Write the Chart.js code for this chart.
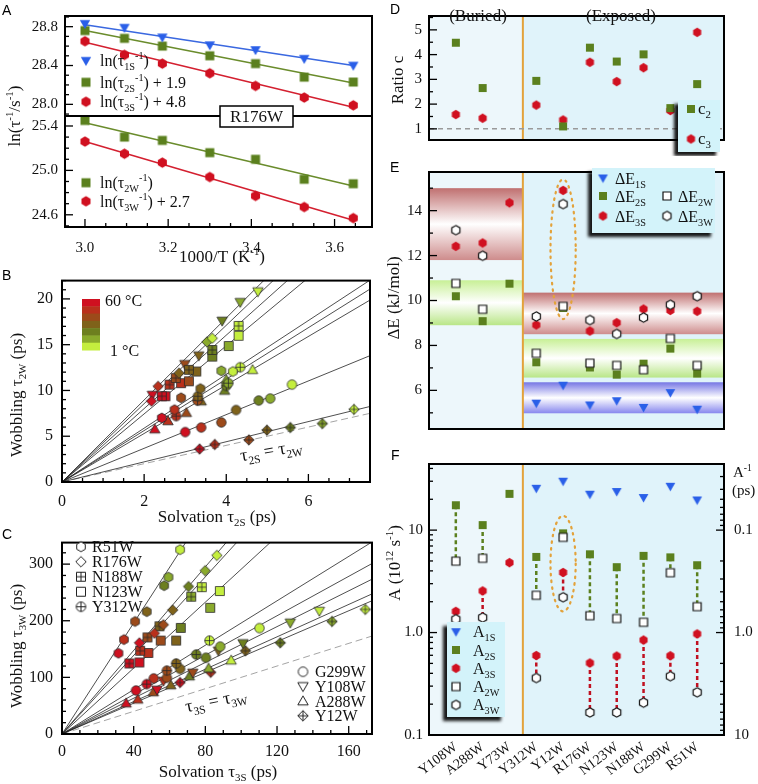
<!DOCTYPE html>
<html>
<head>
<meta charset="utf-8">
<title>Solvation and wobbling dynamics</title>
<script src="https://cdn.jsdelivr.net/npm/chart.js@4.4.1/dist/chart.umd.min.js"></script>
<style>
  body { margin: 0; background: #fff; }
  #wrap { position: relative; width: 758px; height: 784px; overflow: hidden; }
  canvas { position: absolute; }
  .tag { position: absolute; font: 14px "Liberation Sans", Arial, sans-serif; line-height: 14px; color: #000; }
</style>
</head>
<body>
<div id="wrap">
  <canvas id="a2" width="380" height="266" style="left:0;top:0"></canvas>
  <canvas id="a1" width="380" height="266" style="left:0;top:0"></canvas>
  <canvas id="b" width="380" height="266" style="left:0;top:262px"></canvas>
  <canvas id="c" width="380" height="260" style="left:0;top:524px"></canvas>
  <canvas id="d" width="378" height="156" style="left:380px;top:0"></canvas>
  <canvas id="e" width="378" height="289" style="left:380px;top:156px"></canvas>
  <canvas id="f" width="378" height="339" style="left:380px;top:445px"></canvas>
  <span class="tag" style="left:2px;top:3px">A</span>
  <span class="tag" style="left:2px;top:268px">B</span>
  <span class="tag" style="left:2px;top:527px">C</span>
  <span class="tag" style="left:390px;top:2px">D</span>
  <span class="tag" style="left:390px;top:160px">E</span>
  <span class="tag" style="left:391px;top:448px">F</span>
</div>
<script>
//---- data ----
// Panel A (R176W): Arrhenius plots
const invT = [3.0, 3.095, 3.186, 3.30, 3.41, 3.527, 3.645];
const ln1S = [28.83, 28.79, 28.69, 28.61, 28.56, 28.47, 28.40];
const ln2S = [28.76, 28.68, 28.60, 28.50, 28.42, 28.28, 28.23];
const ln3S = [28.65, 28.51, 28.42, 28.32, 28.19, 28.07, 27.99];
const ln2W = [25.45, 25.30, 25.27, 25.16, 25.10, 24.92, 24.88];
const ln3W = [25.26, 25.15, 25.07, 24.94, 24.77, 24.67, 24.57];
const fitX = [3.0, 3.645];
const fit1S = [28.82, 28.40];
const fit2S = [28.76, 28.22];
const fit3S = [28.64, 27.97];
const fit2W = [25.43, 24.86];
const fit3W = [25.26, 24.55];

// temperatures (deg C), index used by the points below
const temps = [60, 50, 40, 30, 20, 10, 1];
const mutants = ['R51W', 'R176W', 'N188W', 'N123W', 'Y312W', 'G299W', 'Y108W', 'A288W', 'Y12W'];

// Panel B: [tau2S, tau2W, temperature index]
const b_R51W = [[2.43, 7.0, 0], [2.74, 7.9, 1], [2.9, 9.2, 2], [3.37, 10.2, 3], [3.88, 12.15, 5], [4.16, 12.07, 6]];
const b_R176W = [[2.18, 8.83, 0], [2.34, 10.45, 1], [2.85, 11.89, 3], [3.53, 15.3, 5], [3.66, 15.7, 6]];
const b_N188W = [[2.43, 9.37, 0], [2.62, 10.63, 1], [2.77, 11.35, 2], [3.09, 12.25, 3], [3.66, 14.42, 4], [4.3, 17.05, 6]];
const b_N123W = [[2.52, 9.37, 0], [2.9, 10.8, 1], [3.09, 11.0, 2], [3.27, 12.07, 3], [3.66, 13.7, 4], [4.06, 14.85, 5], [4.3, 15.97, 6]];
const b_Y312W = [[2.78, 7.2, 1], [3.3, 8.9, 2], [3.31, 9.37, 3], [4.0, 10.5, 4], [4.05, 10.8, 5], [4.34, 12.54, 6]];
const b_G299W = [[3.0, 5.45, 0], [3.39, 5.95, 1], [3.88, 6.5, 2], [4.24, 7.86, 3], [4.79, 8.9, 4], [5.07, 9.12, 5], [5.6, 10.64, 6]];
const b_Y108W = [[2.2, 9.5, 0], [2.99, 12.86, 2], [3.33, 13.8, 3], [3.9, 17.6, 4], [4.34, 19.64, 5], [4.77, 20.8, 6]];
const b_A288W = [[2.26, 5.77, 0], [2.58, 6.67, 1], [3.03, 7.57, 2], [3.39, 8.83, 3], [3.96, 9.99, 4], [4.0, 11.18, 5], [4.64, 12.26, 6]];
const b_Y12W = [[3.35, 3.6, 0], [3.72, 4.1, 1], [4.55, 4.6, 2], [4.99, 5.66, 3], [5.56, 5.95, 4], [6.34, 6.38, 5], [7.11, 7.93, 6]];

// Panel C: [tau3S, tau3W, temperature index]
const c_R51W = [[31.5, 142.5, 0], [34.6, 166.7, 1], [40.8, 198.7, 2], [47.3, 216, 3], [57, 262, 4], [59.4, 277, 5], [65.9, 325.5, 6]];
const c_R176W = [[43.2, 161, 0], [51.6, 177.9, 1], [56.6, 193, 2], [61.8, 218.9, 3], [70.6, 260.4, 4], [79.9, 288.4, 5], [86.4, 315.4, 6]];
const c_N188W = [[37.6, 124.6, 0], [43.6, 147, 1], [47.7, 170.6, 2], [54.4, 190.2, 3], [72.1, 242.4, 5], [78, 259.3, 6]];
const c_N123W = [[43.2, 126.3, 0], [48.2, 143.1, 1], [55.1, 165, 2], [63.7, 165, 3], [66.3, 187.4, 4], [82.7, 222.8, 5], [88.1, 252.5, 6]];
const c_Y312W = [[47.3, 88.1, 0], [58.5, 112, 2], [63.7, 124.6, 3], [74.9, 140.3, 4], [82.3, 165, 6]];
const c_G299W = [[41.3, 76.9, 0], [51.2, 98.2, 1], [58.5, 99.3, 2], [65.9, 115, 3], [80.3, 134.7, 4], [88.3, 154.3, 5], [110.2, 187, 6]];
const c_Y108W = [[53, 78, 0], [56.6, 93.7, 1], [73, 108, 2], [87.3, 147, 3], [101, 160, 4], [127.4, 196.4, 5], [143.6, 217.2, 6]];
const c_A288W = [[35.8, 54.4, 0], [42.3, 61.2, 1], [51, 74, 2], [60.7, 86.4, 3], [71.1, 102.1, 4], [81.8, 116, 5], [94.4, 130.2, 6]];
const c_Y12W = [[65.9, 90.9, 0], [83, 108.9, 1], [102.4, 147, 3], [121.8, 161.1, 4], [150.7, 198.7, 5], [169.3, 220, 6]];

// Panels D-F, one value per site
const sites = ['Y108W', 'A288W', 'Y73W', 'Y312W', 'Y12W', 'R176W', 'N123W', 'N188W', 'G299W', 'R51W'];
const c2 = [4.48, 2.65, null, 2.94, 1.10, 4.28, 3.72, 4.01, 1.84, 2.81];
const c3 = [1.58, 1.43, null, 1.96, 1.36, 3.69, 2.91, 3.47, 1.74, 4.90];

const dE1S = [null, null, null, 5.43, 6.23, 5.35, 5.54, 5.24, 5.90, 5.16];
const dE2S = [10.19, 9.08, 10.75, 7.25, 9.67, 7.02, 6.70, 7.19, 7.86, 6.75];
const dE3S = [12.41, 12.56, 14.35, 8.91, 14.90, 8.64, 9.01, 9.62, 9.56, 9.52];
const dE2W = [10.76, 9.61, null, 7.65, 9.74, 7.21, 7.11, 6.92, 8.31, 7.11];
const dE3W = [13.13, 11.99, null, 9.29, 14.29, 9.13, 8.51, 9.24, 9.81, 10.19];
// shaded ranges: [x from, x to, dE low, dE high, tone]
const bandsE = [
  [0, 3.5, 11.8, 15.0, 'red'],
  [0, 3.5, 8.9, 10.9, 'green'],
  [3.5, 11, 8.5, 10.35, 'red'],
  [3.5, 11, 6.57, 8.29, 'green'],
  [3.5, 11, 4.98, 6.36, 'blue']
];

const A1S = [null, null, null, 25.6, 30.0, 22.4, 23.8, 20.8, 26.8, 19.7];
const A2S = [17.5, 11.2, 22.6, 5.48, 9.3, 5.81, 4.35, 5.61, 5.42, 4.54];
const A3S = [1.61, 2.55, 4.81, 0.597, 3.86, 0.505, 0.590, 0.845, 0.593, 0.97];
const A2W = [4.98, 5.31, null, 2.31, 8.5, 1.46, 1.37, 1.26, 3.84, 1.79];
const A3W = [1.35, 1.40, null, 0.36, 2.21, 0.166, 0.166, 0.207, 0.375, 0.261];

//---- styles ----
const blue = '#2a5fe8', green = '#5b801e', red = '#d01020', orange = '#e3a23a';
const tempColors = ['#cf1020', '#b9301c', '#9c4a1a', '#7f621a', '#6d7f1f', '#8aaa2c', '#c4ee3e'];
const shapes = ['hex', 'diamond', 'sqplus', 'square', 'circplus', 'circle', 'tridown', 'tri', 'diamplus'];
const bandTones = {
  red: ['rgb(192,112,112)', 'rgb(206,140,140)'],
  green: ['rgb(200,240,150)', 'rgb(185,230,135)'],
  blue: ['rgb(118,118,228)', 'rgb(135,135,238)']
};
const SERIF = '"Liberation Serif", "Times New Roman", serif';

Chart.defaults.font.family = SERIF;
Chart.defaults.font.size = 15;
Chart.defaults.color = '#111';

// marker images
function mk(shape, size, fill, stroke, lw) {
  const n = Math.ceil(size * 1.5 + 4);
  const cv = document.createElement('canvas');
  cv.width = n; cv.height = n;
  const g = cv.getContext('2d');
  const m = n / 2, r = size / 2;
  const poly = pts => {
    g.moveTo(m + pts[0][0], m + pts[0][1]);
    pts.slice(1).forEach(p => g.lineTo(m + p[0], m + p[1]));
    g.closePath();
  };
  g.beginPath();
  if (shape === 'square' || shape === 'sqplus') g.rect(m - r, m - r, size, size);
  else if (shape === 'circle' || shape === 'circplus') g.arc(m, m, r, 0, Math.PI * 2);
  else if (shape === 'hex') {
    const h = [];
    for (let i = 0; i < 6; i++) {
      const a = -Math.PI / 2 + i * Math.PI / 3;
      h.push([r * 1.1 * Math.cos(a), r * 1.1 * Math.sin(a)]);
    }
    poly(h);
  }
  else if (shape === 'tri') poly([[0, -r * 1.15], [r * 1.15, r * 0.85], [-r * 1.15, r * 0.85]]);
  else if (shape === 'tridown') poly([[0, r * 1.15], [r * 1.15, -r * 0.85], [-r * 1.15, -r * 0.85]]);
  else poly([[0, -r * 1.3], [r * 1.3, 0], [0, r * 1.3], [-r * 1.3, 0]]);
  if (fill) { g.fillStyle = fill; g.fill(); }
  if (stroke) { g.lineWidth = lw; g.strokeStyle = stroke; g.stroke(); }
  if (shape.endsWith('plus')) {
    const e = shape === 'diamplus' ? r * 1.3 : r;
    g.beginPath();
    g.moveTo(m - e, m); g.lineTo(m + e, m);
    g.moveTo(m, m - e); g.lineTo(m, m + e);
    g.strokeStyle = stroke; g.lineWidth = lw; g.stroke();
  }
  return cv;
}

// text with sub/superscripts: '_x' = subscript, '^x' = superscript
function rich(ctx, x, y, parts, size, align, rot) {
  ctx.save();
  ctx.translate(x, y);
  if (rot) ctx.rotate(rot);
  const small = size * 0.64;
  const segs = parts.map(p => {
    const kind = p[0] === '_' ? 'sub' : p[0] === '^' ? 'sup' : 'n';
    const text = kind === 'n' ? p : p.slice(1);
    const fs = kind === 'n' ? size : small;
    ctx.font = fs + 'px ' + SERIF;
    return { kind, text, fs, w: ctx.measureText(text).width };
  });
  const total = segs.reduce((s, g) => s + g.w, 0);
  let cx = align === 'center' ? -total / 2 : align === 'right' ? -total : 0;
  ctx.fillStyle = '#111';
  ctx.textAlign = 'left';
  ctx.textBaseline = 'alphabetic';
  segs.forEach(g => {
    ctx.font = g.fs + 'px ' + SERIF;
    const dy = g.kind === 'sub' ? size * 0.25 : g.kind === 'sup' ? -size * 0.42 : 0;
    ctx.fillText(g.text, cx, dy);
    cx += g.w;
  });
  ctx.restore();
}

function stamp(ctx, img, x, y) {
  ctx.drawImage(img, x - img.width / 2, y - img.height / 2);
}

function legendBox(ctx, x, y, w, h) {
  ctx.save();
  ctx.shadowColor = 'rgba(0,0,0,0.9)';
  ctx.shadowBlur = 3;
  ctx.shadowOffsetX = -4;
  ctx.shadowOffsetY = 4;
  ctx.fillStyle = '#d3f3fa';
  ctx.fillRect(x, y, w, h);
  ctx.restore();
}

function axis(min, max, vals, fmt, size, extra = {}) {
  const o = {
    type: 'linear', min, max,
    grid: { display: false, drawTicks: false },
    border: { display: false },
    ticks: Object.assign({ padding: 7, color: '#111', font: { size: 15 }, callback: fmt, autoSkip: false, maxRotation: 0 }, extra.ticks || {}),
    afterBuildTicks: s => { s.ticks = vals.map(v => ({ value: v })); },
    afterFit: s => {
      if (size.w !== undefined) s.width = size.w;
      if (size.h !== undefined) s.height = size.h;
    }
  };
  ['type', 'display', 'position', 'reverse'].forEach(k => { if (extra[k] !== undefined) o[k] = extra[k]; });
  return o;
}

// frame around plot area + inward major/minor ticks
function framePlugin(spec) {
  return {
    id: 'frame',
    afterDatasetsDraw(chart) {
      const { ctx, chartArea: a } = chart;
      ctx.save();
      ctx.strokeStyle = '#000';
      ctx.lineWidth = 1.3;
      spec.forEach(s => {
        const sc = chart.scales[s.id];
        const vals = [];
        if (s.log) {
          for (let d = Math.floor(Math.log10(sc.min)); d <= Math.ceil(Math.log10(sc.max)); d++) {
            for (let k = 1; k < 10; k++) {
              const v = k * Math.pow(10, d);
              if (v >= sc.min * 0.999 && v <= sc.max * 1.001) vals.push([v, k === 1]);
            }
          }
        } else {
          const majors = sc.ticks.map(t => t.value);
          for (let n = Math.ceil(sc.min / s.minor - 1e-6); n <= Math.floor(sc.max / s.minor + 1e-6); n++) {
            const v = n * s.minor;
            vals.push([v, majors.some(mv => Math.abs(mv - v) < s.minor / 10)]);
          }
        }
        vals.forEach(([v, major]) => {
          const p = sc.getPixelForValue(v), len = major ? 8 : 4;
          ctx.beginPath();
          s.sides.forEach(side => {
            if (side === 'left') { ctx.moveTo(a.left, p); ctx.lineTo(a.left + len, p); }
            if (side === 'right') { ctx.moveTo(a.right, p); ctx.lineTo(a.right - len, p); }
            if (side === 'bottom') { ctx.moveTo(p, a.bottom); ctx.lineTo(p, a.bottom - len); }
          });
          ctx.stroke();
        });
      });
      ctx.lineWidth = 2;
      ctx.strokeRect(a.left, a.top, a.right - a.left, a.bottom - a.top);
      ctx.restore();
    }
  };
}

function drawOn(fn) {
  return { id: 'notes', afterDraw(chart) { chart.ctx.save(); fn(chart.ctx, chart); chart.ctx.restore(); } };
}

// light blue background, buried/exposed split and orange divider
function sidesPlugin(extra) {
  return {
    id: 'sides',
    beforeDatasetsDraw(chart) {
      const { ctx, chartArea: a, scales: { x } } = chart;
      const xs = x.getPixelForValue(3.5);
      ctx.save();
      ctx.fillStyle = '#edf7fb';
      ctx.fillRect(a.left, a.top, xs - a.left, a.bottom - a.top);
      ctx.fillStyle = '#e0f3fa';
      ctx.fillRect(xs, a.top, a.right - xs, a.bottom - a.top);
      if (extra) extra(chart);
      ctx.strokeStyle = orange;
      ctx.lineWidth = 2;
      ctx.beginPath();
      ctx.moveTo(xs, a.top); ctx.lineTo(xs, a.bottom);
      ctx.stroke();
      ctx.restore();
    }
  };
}

function ellipse(chart, xc, yTop, yBot, halfW) {
  const { ctx, scales: { x, y } } = chart;
  const px = x.getPixelForValue(xc);
  const t = y.getPixelForValue(yTop), b = y.getPixelForValue(yBot);
  const rx = Math.abs(x.getPixelForValue(xc + halfW) - px);
  ctx.save();
  ctx.strokeStyle = orange;
  ctx.lineWidth = 2.2;
  ctx.lineCap = 'round';
  ctx.setLineDash([1.5, 5]);
  ctx.beginPath();
  ctx.ellipse(px, (t + b) / 2, rx, (b - t) / 2, 0, 0, Math.PI * 2);
  ctx.stroke();
  ctx.restore();
}

function series(xs, ys, style, order) {
  const data = [];
  xs.forEach((x, i) => { if (ys[i] !== null) data.push({ x, y: ys[i] }); });
  return { data, pointStyle: style, pointRadius: 5, order: order || 1 };
}

function lineSet(data, color, width, dash) {
  return { data, showLine: true, spanGaps: false, borderColor: color, borderWidth: width, borderDash: dash || [], pointRadius: 0, order: 9 };
}

function makeChart(id, datasets, scales, padding, plugins) {
  return new Chart(document.getElementById(id), {
    type: 'scatter',
    data: { datasets },
    options: {
      responsive: false, animation: false, events: [],
      layout: { padding },
      scales,
      plugins: { legend: { display: false }, tooltip: { enabled: false } }
    },
    plugins
  });
}

const f1 = v => v.toFixed(1);
const f0 = v => String(v);

//---- Panel A ----
const aTri = mk('tridown', 9, blue), aSq = mk('square', 9, green), aHex = mk('hex', 9.5, red);
const fitPts = ys => fitX.map((x, i) => ({ x, y: ys[i] }));

makeChart('a1', [
  series(invT, ln1S, aTri), series(invT, ln2S, aSq), series(invT, ln3S, aHex),
  lineSet(fitPts(fit1S), '#3a68e0', 1.6), lineSet(fitPts(fit2S), '#6a8c2c', 1.6), lineSet(fitPts(fit3S), '#d42030', 1.6)
], {
  x: axis(2.952, 3.69, [3.0, 3.2, 3.4, 3.6], f1, {}, { display: false }),
  y: axis(27.88, 28.91, [28.0, 28.4, 28.8], f1, { w: 65 })
}, { top: 3, right: 8, bottom: 150, left: 0 }, [
  framePlugin([{ id: 'y', minor: 0.1, sides: ['left'] }]),
  drawOn(ctx => {
    [[aTri, 60.7, ['ln(τ', '_1S', '^-1', ')']],
     [aSq, 82.3, ['ln(τ', '_2S', '^-1', ') + 1.9']],
     [aHex, 101.7, ['ln(τ', '_3S', '^-1', ') + 4.8']]].forEach(([img, y, t]) => {
      stamp(ctx, img, 86, y);
      rich(ctx, 100, y + 5.5, t, 16);
    });
    rich(ctx, 20, 116, ['ln(τ', '^-1', '/s', '^-1', ')'], 17, 'center', -Math.PI / 2);
    ctx.fillStyle = '#fff';
    ctx.fillRect(220, 106, 73, 21);
    ctx.strokeStyle = '#000';
    ctx.lineWidth = 1.5;
    ctx.strokeRect(220, 106, 73, 21);
    rich(ctx, 256.5, 122, ['R176W'], 17, 'center');
  })
]);

makeChart('a2', [
  series(invT, ln2W, aSq), series(invT, ln3W, aHex),
  lineSet(fitPts(fit2W), '#6a8c2c', 1.6), lineSet(fitPts(fit3W), '#d42030', 1.6)
], {
  x: axis(2.952, 3.69, [3.0, 3.2, 3.4, 3.6], f1, { h: 39 }, { ticks: { padding: 12 } }),
  y: axis(24.49, 25.49, [24.6, 25.0, 25.4], f1, { w: 65 })
}, { top: 116, right: 8, bottom: 0, left: 0 }, [
  framePlugin([{ id: 'y', minor: 0.1, sides: ['left'] }, { id: 'x', minor: 0.05, sides: ['bottom'] }]),
  drawOn(ctx => {
    [[aSq, 182.7, ['ln(τ', '_2W', '^-1', ')']],
     [aHex, 201.3, ['ln(τ', '_3W', '^-1', ') + 2.7']]].forEach(([img, y, t]) => {
      stamp(ctx, img, 86, y);
      rich(ctx, 100, y + 5.5, t, 16);
    });
    rich(ctx, 222, 262, ['1000/T (K', '^-1', ')'], 17, 'center');
  })
]);

//---- Panels B and C ----
const tauB = [b_R51W, b_R176W, b_N188W, b_N123W, b_Y312W, b_G299W, b_Y108W, b_A288W, b_Y12W];
const tauC = [c_R51W, c_R176W, c_N188W, c_N123W, c_Y312W, c_G299W, c_Y108W, c_A288W, c_Y12W];
const mSize = { hex: 9, diamond: 8, sqplus: 9, square: 9, circplus: 9.5, circle: 9.5, tridown: 9, tri: 9, diamplus: 8 };

function tempSets(groups, ratio, xEnd) {
  const pts = groups.map((g, k) => ({
    data: g.map(p => ({ x: p[0], y: p[1] })),
    pointStyle: g.map(p => mk(shapes[k], mSize[shapes[k]], tempColors[p[2]], '#2a2a2a', 0.8)),
    pointRadius: 5, order: 1
  }));
  const lines = mutants.map(m => {
    const c = ratio[sites.indexOf(m)];
    return lineSet([{ x: 0, y: 0 }, { x: xEnd, y: c * xEnd }], '#222', 0.8);
  });
  lines.push(lineSet([{ x: 0, y: 0 }, { x: xEnd, y: xEnd }], '#9a9a9a', 0.9, [7, 4]));
  return pts.concat(lines);
}

makeChart('b', tempSets(tauB, c2, 7.5), {
  x: axis(0, 7.5, [0, 2, 4, 6], f0, { h: 46 }, { ticks: { padding: 10, font: { size: 16 } } }),
  y: axis(0, 22, [0, 5, 10, 15, 20], f0, { w: 62 }, { ticks: { padding: 9, font: { size: 16 } } })
}, { top: 16, right: 10, bottom: 0, left: 0 }, [
  framePlugin([{ id: 'y', minor: 1, sides: ['left'] }, { id: 'x', minor: 0.5, sides: ['bottom'] }]),
  drawOn(ctx => {
    const h = 51 / tempColors.length;
    tempColors.forEach((col, i) => {
      ctx.fillStyle = col;
      ctx.fillRect(82, 37 + i * h, 18, h + 0.5);
    });
    rich(ctx, 105, 43.5, [temps[0] + ' °C'], 16);
    rich(ctx, 110, 93.5, [temps[6] + ' °C'], 16);
    rich(ctx, 272, 194, ['τ', '_2S', ' = τ', '_2W'], 18, 'center', -0.17);
    rich(ctx, 22, 133, ['Wobbling τ', '_2W', ' (ps)'], 17, 'center', -Math.PI / 2);
    rich(ctx, 217, 260, ['Solvation τ', '_2S', ' (ps)'], 17, 'center');
  })
]);

makeChart('c', tempSets(tauC, c3, 173), {
  x: axis(0, 173, [0, 40, 80, 120, 160], f0, { h: 50 }, { ticks: { padding: 8, font: { size: 16 } } }),
  y: axis(0, 338, [0, 100, 200, 300], f0, { w: 62 }, { ticks: { padding: 9, font: { size: 16 } } })
}, { top: 9, right: 8, bottom: 0, left: 0 }, [
  framePlugin([{ id: 'y', minor: 20, sides: ['left'] }, { id: 'x', minor: 10, sides: ['bottom'] }]),
  drawOn(ctx => {
    const open = s => mk(s, mSize[s], '#fff', '#222', 1);
    [['hex', 'R51W'], ['diamond', 'R176W'], ['sqplus', 'N188W'], ['square', 'N123W'], ['circplus', 'Y312W']].forEach(([s, t], i) => {
      stamp(ctx, open(s), 81, 22.7 + i * 15);
      rich(ctx, 92, 28.2 + i * 15, [t], 16);
    });
    [['circle', 'G299W'], ['tridown', 'Y108W'], ['tri', 'A288W'], ['diamplus', 'Y12W']].forEach(([s, t], i) => {
      stamp(ctx, open(s), 303, 147.7 + i * 14.7);
      rich(ctx, 315, 153.2 + i * 14.7, [t], 16);
    });
    rich(ctx, 217, 182, ['τ', '_3S', ' = τ', '_3W'], 18, 'center', -0.2);
    rich(ctx, 22, 122, ['Wobbling τ', '_3W', ' (ps)'], 17, 'center', -Math.PI / 2);
    rich(ctx, 218, 253, ['Solvation τ', '_3S', ' (ps)'], 17, 'center');
  })
]);

//---- Panels D, E, F ----
const sitePos = sites.map((s, i) => i + 1);
const dSq = mk('square', 8, green), dHex = mk('hex', 8.5, red), dTri = mk('tridown', 8.5, blue);
const oSq = mk('square', 8, '#fff', '#111', 1.2), oHex = mk('hex', 8.5, '#fff', '#111', 1.2);
const catAxis = (extra, size) => axis(0, 11, sitePos, v => sites[v - 1], size, extra);

makeChart('d', [
  series(sitePos, c2, dSq), series(sitePos, c3, dHex),
  lineSet([{ x: 0, y: 1 }, { x: 11, y: 1 }], '#9a9a9a', 1.5, [5, 4])
], {
  x: catAxis({ display: false }, {}),
  y: axis(0.55, 5.56, [1, 2, 3, 4, 5], f0, { w: 49 })
}, { top: 2, right: 34, bottom: 0, left: 0 }, [
  sidesPlugin(),
  framePlugin([{ id: 'y', minor: 0.5, sides: ['left'] }]),
  drawOn(ctx => {
    rich(ctx, 98, 21, ['(Buried)'], 17, 'center');
    rich(ctx, 241, 21, ['(Exposed)'], 17, 'center');
    legendBox(ctx, 298, 100, 42, 52);
    stamp(ctx, dSq, 311, 109);
    rich(ctx, 318, 114, ['c', '_2'], 17);
    stamp(ctx, dHex, 311, 139);
    rich(ctx, 318, 144, ['c', '_3'], 17);
    rich(ctx, 23, 80, ['Ratio c'], 17, 'center', -Math.PI / 2);
  })
]);

makeChart('e', [
  series(sitePos, dE2W, oSq, 1), series(sitePos, dE3W, oHex, 1),
  series(sitePos, dE1S, dTri, 2), series(sitePos, dE2S, dSq, 2), series(sitePos, dE3S, dHex, 2)
], {
  x: catAxis({ display: false }, {}),
  y: axis(4.28, 15.72, [6, 8, 10, 12, 14], f0, { w: 49 })
}, { top: 0, right: 34, bottom: 0, left: 0 }, [
  sidesPlugin(chart => {
    const { ctx, scales: { x, y } } = chart;
    bandsE.forEach(([x0, x1, lo, hi, tone]) => {
      const l = x.getPixelForValue(x0) , r = x.getPixelForValue(x1);
      const t = y.getPixelForValue(hi), b = y.getPixelForValue(lo);
      const gr = ctx.createLinearGradient(0, t, 0, b);
      gr.addColorStop(0, bandTones[tone][0]);
      gr.addColorStop(0.5, '#ffffff');
      gr.addColorStop(1, bandTones[tone][1]);
      ctx.fillStyle = gr;
      ctx.fillRect(l, t, r - l, b - t);
    });
  }),
  framePlugin([{ id: 'y', minor: 1, sides: ['left'] }]),
  drawOn((ctx, chart) => {
    ellipse(chart, 5, 15.39, 9.17, 0.47);
    legendBox(ctx, 212, 12, 123, 65);
    stamp(ctx, dTri, 223, 22);
    rich(ctx, 235, 28, ['ΔE', '_1S'], 16);
    stamp(ctx, dSq, 223, 40);
    rich(ctx, 235, 46, ['ΔE', '_2S'], 16);
    stamp(ctx, dHex, 223, 60);
    rich(ctx, 235, 66, ['ΔE', '_3S'], 16);
    stamp(ctx, oSq, 287, 40);
    rich(ctx, 298, 46, ['ΔE', '_2W'], 16);
    stamp(ctx, oHex, 287, 60);
    rich(ctx, 298, 66, ['ΔE', '_3W'], 16);
    rich(ctx, 19, 142, ['ΔE (kJ/mol)'], 17, 'center', -Math.PI / 2);
  })
]);

function connectors(top, bottom) {
  const data = [];
  sites.forEach((s, i) => {
    if (top[i] !== null && bottom[i] !== null) data.push({ x: i + 1, y: top[i] }, { x: i + 1, y: bottom[i] }, { x: i + 1.5, y: null });
  });
  return data;
}
const decade = v => (v === 0.1 ? '0.1' : v === 1 ? '1.0' : '10');

makeChart('f', [
  series(sitePos, A2W, oSq, 1), series(sitePos, A3W, oHex, 1),
  series(sitePos, A1S, dTri, 2), series(sitePos, A2S, dSq, 2), series(sitePos, A3S, dHex, 2),
  lineSet(connectors(A2S, A2W), green, 2.5, [4, 3]),
  lineSet(connectors(A3S, A3W), '#c01020', 2.5, [4, 3])
], {
  x: catAxis({ ticks: { padding: 4, font: { size: 14 }, minRotation: 37, maxRotation: 37 } }, { h: 49 }),
  y: axis(0.1, 44.2, [0.1, 1, 10], decade, { w: 49 }, { type: 'logarithmic', ticks: { padding: 6 } }),
  y2: axis(1 / 44.2, 10, [0.1, 1, 10], decade, { w: 34 }, { type: 'logarithmic', position: 'right', reverse: true, ticks: { padding: 10 } })
}, { top: 0, right: 0, bottom: 0, left: 0 }, [
  sidesPlugin(),
  framePlugin([{ id: 'y', log: true, sides: ['left'] }, { id: 'y2', log: true, sides: ['right'] }]),
  drawOn((ctx, chart) => {
    ellipse(chart, 5, 13.8, 1.61, 0.47);
    legendBox(ctx, 67, 177, 58, 95);
    [[dTri, '_1S'], [dSq, '_2S'], [dHex, '_3S'], [oSq, '_2W'], [oHex, '_3W']].forEach(([img, sub], i) => {
      const y = 186.7 + i * 18.3;
      stamp(ctx, img, 76, y);
      rich(ctx, 93, y + 5.5, ['A', sub], 16);
    });
    rich(ctx, 20, 118, ['A (10', '^12', ' s', '^-1', ')'], 17, 'center', -Math.PI / 2);
    rich(ctx, 353, 32, ['A', '^-1'], 15);
    rich(ctx, 352, 50, ['(ps)'], 15);
  })
]);
</script>
</body>
</html>
